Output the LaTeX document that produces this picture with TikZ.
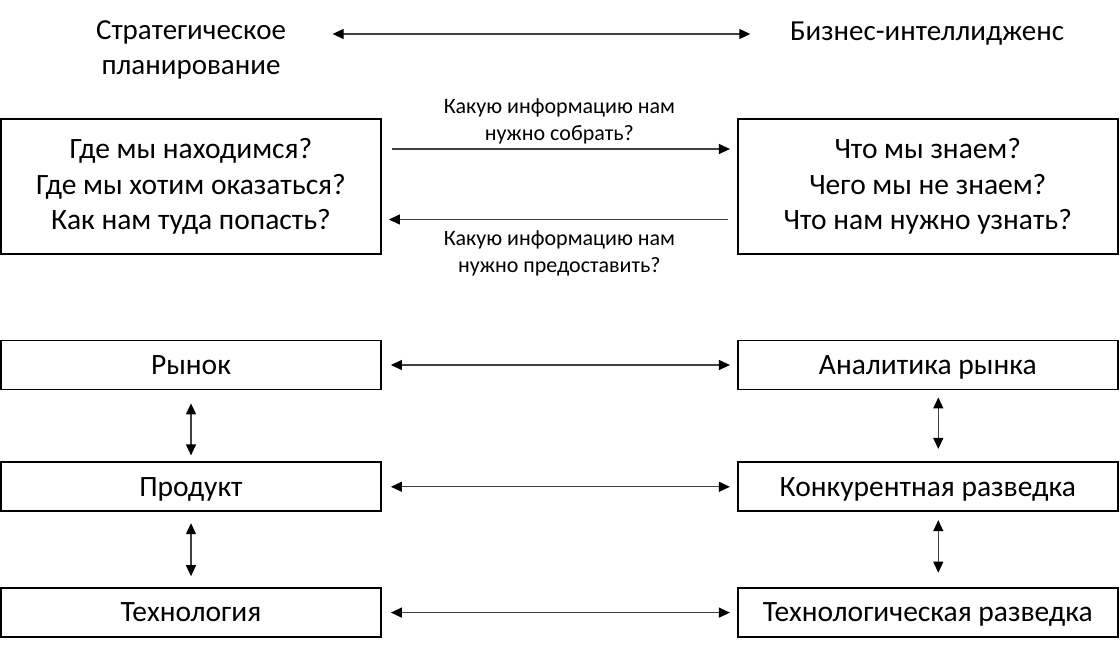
\documentclass[tikz,border=0pt]{standalone}
\usepackage{fontspec}
\setmainfont{Carlito}
\usepackage{tikz}
\usetikzlibrary{positioning}
\usetikzlibrary{arrows.meta}
\tikzstyle{box}=[draw, line width=1.8pt, minimum width=380pt, inner sep=0pt, align=center, font=\fontsize{29.5}{35.5}\selectfont]
\tikzstyle{bar}=[box, minimum height=49pt, text height=24pt, text depth=5.3pt]
\tikzstyle{head}=[inner sep=0pt, align=center, font=\fontsize{29}{35}\selectfont]
\tikzstyle{note}=[inner sep=0pt, align=center, font=\fontsize{22}{27.3}\selectfont]
\tikzstyle{link}=[draw=black!75, line width=1.2pt, -{Triangle[length=11pt, width=10pt, black]}]
\tikzstyle{both}=[draw=black!75, line width=1.2pt, {Triangle[length=11pt, width=10pt, black]}-{Triangle[length=11pt, width=10pt, black]}]

\begin{document}
\begin{tikzpicture}[x=1pt, y=-1pt]
            \useasboundingbox (0,0) rectangle (1120,650);

            \node[head] (strat) at (191,50) {Стратегическое\\планирование};
            \node[head] (biz) at (927,33.5) {Бизнес-интеллидженс};

            \node[box, minimum height=135pt] (where) at (191,186.5) {Где мы находимся?\\Где мы хотим оказаться?\\Как нам туда попасть?};
            \node[box, minimum height=135pt, right=355pt of where] (know) {Что мы знаем?\\Чего мы не знаем?\\Что нам нужно узнать?};

            \node[bar] (market) at (191,365) {Рынок};
            \node[bar, below=71pt of market] (product) {Продукт};
            \node[bar, below=75pt of product] (tech) {Технология};
            \node[bar, right=355pt of market] (analytics) {Аналитика рынка};
            \node[bar, right=355pt of product] (compint) {Конкурентная разведка};
            \node[bar, right=355pt of tech] (techint) {Технологическая разведка};

            \draw[both, shorten <=46.5pt, shorten >=39.5pt] ([yshift=-0.5pt]biz.west -| strat.east) -- ([yshift=-0.5pt]biz.west);

            \draw[link, shorten <=10pt, shorten >=7pt] ([yshift=37.5pt]where.east) -- ([yshift=37.5pt]know.west)
                node[note, midway, yshift=27.5pt] {Какую информацию нам\\нужно собрать?};
            \draw[link, shorten <=9pt, shorten >=7pt] ([yshift=-33pt]know.west) -- ([yshift=-33pt]where.east)
                node[note, midway, yshift=-34pt] {Какую информацию нам\\нужно предоставить?};

            \draw[both, shorten <=9pt, shorten >=7pt] (market) -- (analytics);
            \draw[both, shorten <=9pt, shorten >=7pt] (product) -- (compint);
            \draw[both, shorten <=9pt, shorten >=7pt] (tech) -- (techint);

            \draw[both, shorten <=13pt, shorten >=6pt] (market.south) -- (product.north);
            \draw[both, shorten <=11pt, shorten >=11pt] (product.south) -- (tech.north);
            \draw[both, shorten <=7pt, shorten >=12.5pt] ([xshift=10.5pt]analytics.south) -- ([xshift=10.5pt]compint.north);
            \draw[both, shorten <=8pt, shorten >=14.5pt] ([xshift=10.5pt]compint.south) -- ([xshift=10.5pt]techint.north);
        \end{tikzpicture}
\end{document}
